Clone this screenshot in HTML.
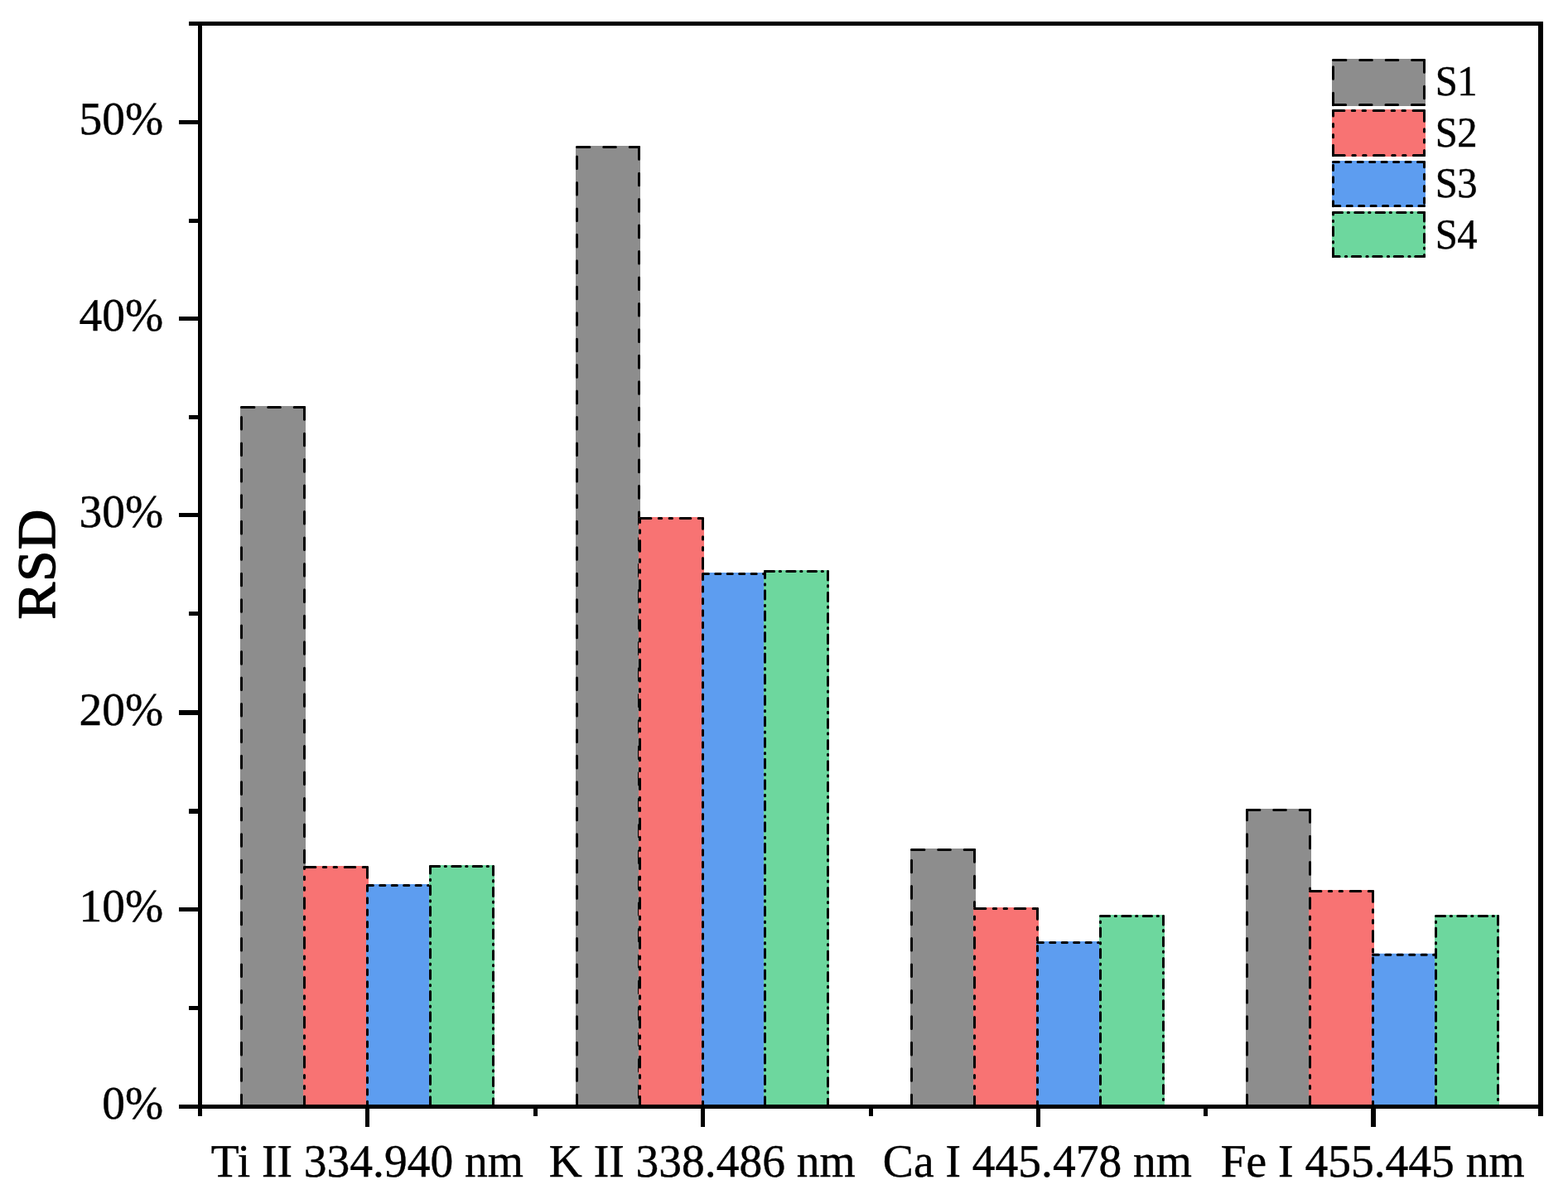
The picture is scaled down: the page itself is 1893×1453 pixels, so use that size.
<!DOCTYPE html>
<html lang="en"><head><meta charset="utf-8"><title>RSD of spectral lines for samples S1-S4</title>
<style>
html,body{margin:0;padding:0;background:#fff;}
body{width:1893px;height:1453px;}
svg{display:block;}
text{font-family:"Liberation Serif","Times New Roman",Times,serif;fill:#000;text-rendering:geometricPrecision;}
.tk{font-size:55.5px;stroke:#000;stroke-width:0.4px;}
.lg{font-size:48.6px;stroke:#000;stroke-width:0.4px;letter-spacing:-0.6px;}
.yl{font-size:67px;stroke:#000;stroke-width:1.5px;stroke-linejoin:round;letter-spacing:1.2px;}
.bd{fill:none;stroke:#000;stroke-width:3;stroke-linecap:round;}
.ax{fill:#000;}
</style></head><body>
<svg width="1893" height="1453" viewBox="0 0 1893 1453" role="img" aria-label="Grouped bar chart of RSD for four spectral lines and samples S1 to S4">
<rect x="0" y="0" width="1893" height="1453" fill="#fff"/>
<g id="bars">
<rect x="290" y="490" width="79" height="847" rx="1.2" fill="#8d8d8d"/><path class="bd" stroke-dasharray="14.6 16.85" d="M291.5 1335.8V491.5"/><path class="bd" stroke-dasharray="14.6 16.85" d="M292.3 491.5H367.5"/><path class="bd" stroke-dasharray="14.6 16.85" d="M367.5 491.7V1335.5"/><path class="bd" d="M291.5 491.5h0.01M367.5 491.5h0.01"/>
<rect x="366" y="1045" width="79" height="292" rx="1.2" fill="#f87373"/><path class="bd" stroke-dasharray="12.6 9.4 3.4 9.4 3.4 9.7" d="M367.5 1335.8V1046.5"/><path class="bd" stroke-dasharray="12.6 9.4 3.4 9.4 3.4 9.7" d="M368.3 1046.5H443.5"/><path class="bd" stroke-dasharray="12.6 9.4 3.4 9.4 3.4 9.7" d="M443.5 1046.7V1335.5"/><path class="bd" d="M367.5 1046.5h0.01M443.5 1046.5h0.01"/>
<rect x="442" y="1067" width="79" height="270" rx="1.2" fill="#5d9df0"/><path class="bd" stroke-dasharray="6.1 8.35" d="M443.5 1335.4V1068.5"/><path class="bd" stroke-dasharray="6.1 8.35" d="M444.3 1068.5H519.5"/><path class="bd" stroke-dasharray="6.1 8.35" d="M519.5 1068.7V1335.5"/><path class="bd" d="M443.5 1068.5h0.01M519.5 1068.5h0.01"/>
<rect x="518" y="1044" width="79" height="293" rx="1.2" fill="#6dd79e"/><path class="bd" stroke-dasharray="10.3 6.6 1.3 7.26" d="M519.5 1334V1045.5"/><path class="bd" stroke-dasharray="10.3 6.6 1.3 7.26" d="M520.3 1045.5H595.5"/><path class="bd" stroke-dasharray="10.3 6.6 1.3 7.26" d="M595.5 1045.7V1335.5"/><path class="bd" d="M519.5 1045.5h0.01M595.5 1045.5h0.01"/>
<rect x="695" y="176" width="78" height="1161" rx="1.2" fill="#8d8d8d"/><path class="bd" stroke-dasharray="14.6 16.85" d="M696.5 1335.8V177.5"/><path class="bd" stroke-dasharray="14.6 16.85" d="M697.3 177.5H771.5"/><path class="bd" stroke-dasharray="14.6 16.85" d="M771.5 177.7V1335.5"/><path class="bd" d="M696.5 177.5h0.01M771.5 177.5h0.01"/>
<rect x="771" y="624" width="79" height="713" rx="1.2" fill="#f87373"/><path class="bd" stroke-dasharray="12.6 9.4 3.4 9.4 3.4 9.7" d="M772.5 1335.8V625.5"/><path class="bd" stroke-dasharray="12.6 9.4 3.4 9.4 3.4 9.7" d="M773.3 625.5H848.5"/><path class="bd" stroke-dasharray="12.6 9.4 3.4 9.4 3.4 9.7" d="M848.5 625.7V1335.5"/><path class="bd" d="M772.5 625.5h0.01M848.5 625.5h0.01"/>
<rect x="847" y="691" width="78" height="646" rx="1.2" fill="#5d9df0"/><path class="bd" stroke-dasharray="6.1 8.35" d="M848.5 1335.4V692.5"/><path class="bd" stroke-dasharray="6.1 8.35" d="M849.3 692.5H923.5"/><path class="bd" stroke-dasharray="6.1 8.35" d="M923.5 692.7V1335.5"/><path class="bd" d="M848.5 692.5h0.01M923.5 692.5h0.01"/>
<rect x="922" y="688" width="79" height="649" rx="1.2" fill="#6dd79e"/><path class="bd" stroke-dasharray="10.3 6.6 1.3 7.26" d="M923.5 1334V689.5"/><path class="bd" stroke-dasharray="10.3 6.6 1.3 7.26" d="M924.3 689.5H999.5"/><path class="bd" stroke-dasharray="10.3 6.6 1.3 7.26" d="M999.5 689.7V1335.5"/><path class="bd" d="M923.5 689.5h0.01M999.5 689.5h0.01"/>
<rect x="1099" y="1024" width="79" height="313" rx="1.2" fill="#8d8d8d"/><path class="bd" stroke-dasharray="14.6 16.85" d="M1100.5 1335.8V1025.5"/><path class="bd" stroke-dasharray="14.6 16.85" d="M1101.3 1025.5H1176.5"/><path class="bd" stroke-dasharray="14.6 16.85" d="M1176.5 1025.7V1335.5"/><path class="bd" d="M1100.5 1025.5h0.01M1176.5 1025.5h0.01"/>
<rect x="1175" y="1095" width="79" height="242" rx="1.2" fill="#f87373"/><path class="bd" stroke-dasharray="12.6 9.4 3.4 9.4 3.4 9.7" d="M1176.5 1335.8V1096.5"/><path class="bd" stroke-dasharray="12.6 9.4 3.4 9.4 3.4 9.7" d="M1177.3 1096.5H1252.5"/><path class="bd" stroke-dasharray="12.6 9.4 3.4 9.4 3.4 9.7" d="M1252.5 1096.7V1335.5"/><path class="bd" d="M1176.5 1096.5h0.01M1252.5 1096.5h0.01"/>
<rect x="1251" y="1136" width="79" height="201" rx="1.2" fill="#5d9df0"/><path class="bd" stroke-dasharray="6.1 8.35" d="M1252.5 1335.4V1137.5"/><path class="bd" stroke-dasharray="6.1 8.35" d="M1253.3 1137.5H1328.5"/><path class="bd" stroke-dasharray="6.1 8.35" d="M1328.5 1137.7V1335.5"/><path class="bd" d="M1252.5 1137.5h0.01M1328.5 1137.5h0.01"/>
<rect x="1327" y="1104" width="79" height="233" rx="1.2" fill="#6dd79e"/><path class="bd" stroke-dasharray="10.3 6.6 1.3 7.26" d="M1328.5 1334V1105.5"/><path class="bd" stroke-dasharray="10.3 6.6 1.3 7.26" d="M1329.3 1105.5H1404.5"/><path class="bd" stroke-dasharray="10.3 6.6 1.3 7.26" d="M1404.5 1105.7V1335.5"/><path class="bd" d="M1328.5 1105.5h0.01M1404.5 1105.5h0.01"/>
<rect x="1504" y="976" width="79" height="361" rx="1.2" fill="#8d8d8d"/><path class="bd" stroke-dasharray="14.6 16.85" d="M1505.5 1335.8V977.5"/><path class="bd" stroke-dasharray="14.6 16.85" d="M1506.3 977.5H1581.5"/><path class="bd" stroke-dasharray="14.6 16.85" d="M1581.5 977.7V1335.5"/><path class="bd" d="M1505.5 977.5h0.01M1581.5 977.5h0.01"/>
<rect x="1580" y="1074" width="79" height="263" rx="1.2" fill="#f87373"/><path class="bd" stroke-dasharray="12.6 9.4 3.4 9.4 3.4 9.7" d="M1581.5 1335.8V1075.5"/><path class="bd" stroke-dasharray="12.6 9.4 3.4 9.4 3.4 9.7" d="M1582.3 1075.5H1657.5"/><path class="bd" stroke-dasharray="12.6 9.4 3.4 9.4 3.4 9.7" d="M1657.5 1075.7V1335.5"/><path class="bd" d="M1581.5 1075.5h0.01M1657.5 1075.5h0.01"/>
<rect x="1656" y="1150.8" width="79" height="186.2" rx="1.2" fill="#5d9df0"/><path class="bd" stroke-dasharray="6.1 8.35" d="M1657.5 1335.4V1152.3"/><path class="bd" stroke-dasharray="6.1 8.35" d="M1658.3 1152.3H1733.5"/><path class="bd" stroke-dasharray="6.1 8.35" d="M1733.5 1152.5V1335.5"/><path class="bd" d="M1657.5 1152.3h0.01M1733.5 1152.3h0.01"/>
<rect x="1732" y="1104" width="78" height="233" rx="1.2" fill="#6dd79e"/><path class="bd" stroke-dasharray="10.3 6.6 1.3 7.26" d="M1733.5 1334V1105.5"/><path class="bd" stroke-dasharray="10.3 6.6 1.3 7.26" d="M1734.3 1105.5H1808.5"/><path class="bd" stroke-dasharray="10.3 6.6 1.3 7.26" d="M1808.5 1105.7V1335.5"/><path class="bd" d="M1733.5 1105.5h0.01M1808.5 1105.5h0.01"/>
</g>
<g id="axes" class="ax">
<rect x="239" y="26" width="1624" height="5"/>
<rect x="239" y="1333" width="1624" height="5"/>
<rect x="239" y="26" width="5" height="1321"/>
<rect x="1857" y="26" width="6" height="1321"/>
<rect x="228" y="26" width="12" height="5"/>
<rect x="216" y="145" width="24" height="5"/>
<rect x="228" y="264" width="12" height="5"/>
<rect x="216" y="382" width="24" height="5"/>
<rect x="228" y="501" width="12" height="5"/>
<rect x="216" y="619" width="24" height="5"/>
<rect x="228" y="738" width="12" height="5"/>
<rect x="216" y="857" width="24" height="6"/>
<rect x="228" y="976" width="12" height="6"/>
<rect x="216" y="1095" width="24" height="5"/>
<rect x="228" y="1214" width="12" height="5"/>
<rect x="216" y="1333" width="24" height="5"/>
<rect x="441" y="1335" width="5" height="25"/>
<rect x="846" y="1335" width="5" height="25"/>
<rect x="1251" y="1335" width="5" height="25"/>
<rect x="1655" y="1335" width="6" height="25"/>
<rect x="644" y="1335" width="5" height="12"/>
<rect x="1049" y="1335" width="5" height="12"/>
<rect x="1453" y="1335" width="5" height="12"/>
</g>
<g id="ylabels" class="tk" text-anchor="end">
<text transform="translate(197.3 1350.1) scale(1 1.01)">0%</text>
<text transform="translate(197.3 1112.1) scale(1 1.01)">10%</text>
<text transform="translate(197.3 874.6) scale(1 1.01)">20%</text>
<text transform="translate(197.3 636.1) scale(1 1.01)">30%</text>
<text transform="translate(197.3 399.1) scale(1 1.01)">40%</text>
<text transform="translate(197.3 162.1) scale(1 1.01)">50%</text>
</g>
<g id="xlabels" class="tk" text-anchor="middle">
<text transform="translate(443.35 1420.1) scale(1 1.01)">Ti II 334.940 nm</text>
<text transform="translate(847.75 1420.1) scale(1 1.01)">K II 338.486 nm</text>
<text transform="translate(1252.4 1420.1) scale(1 1.01)">Ca I 445.478 nm</text>
<text transform="translate(1657.1 1420.1) scale(1 1.01)">Fe I 455.445 nm</text>
</g>
<text class="yl" text-anchor="middle" transform="translate(66.4 680.6) rotate(-90) scale(1 0.97)">RSD</text>
<g id="legend">
<rect x="1608" y="71" width="113" height="57" rx="1.2" fill="#8d8d8d"/><path class="bd" stroke-dasharray="14.6 16.85" d="M1609.5 126.8V72.5"/><path class="bd" stroke-dasharray="14.6 16.85" d="M1610.3 72.5H1719.5"/><path class="bd" stroke-dasharray="14.6 16.85" d="M1719.5 72.7V126.5"/><path class="bd" stroke-dasharray="14.6 16.85" d="M1719 126.5H1609.5"/><path class="bd" d="M1609.5 72.5h0.01M1719.5 72.5h0.01M1609.5 126.5h0.01M1719.5 126.5h0.01"/>
<text class="lg" transform="translate(1732.8 115.2) scale(1 1.06)">S1</text>
<rect x="1608" y="132" width="113" height="57" rx="1.2" fill="#f87373"/><path class="bd" stroke-dasharray="12.6 9.4 3.4 9.4 3.4 9.7" d="M1609.5 187.8V133.5"/><path class="bd" stroke-dasharray="12.6 9.4 3.4 9.4 3.4 9.7" d="M1610.3 133.5H1719.5"/><path class="bd" stroke-dasharray="12.6 9.4 3.4 9.4 3.4 9.7" d="M1719.5 133.7V187.5"/><path class="bd" stroke-dasharray="12.6 9.4 3.4 9.4 3.4 9.7" d="M1719 187.5H1609.5"/><path class="bd" d="M1609.5 133.5h0.01M1719.5 133.5h0.01M1609.5 187.5h0.01M1719.5 187.5h0.01"/>
<text class="lg" transform="translate(1732.8 176.7) scale(1 1.06)">S2</text>
<rect x="1608" y="194" width="113" height="56" rx="1.2" fill="#5d9df0"/><path class="bd" stroke-dasharray="6.1 8.35" d="M1609.5 248.8V195.5"/><path class="bd" stroke-dasharray="6.1 8.35" d="M1610.3 195.5H1719.5"/><path class="bd" stroke-dasharray="6.1 8.35" d="M1719.5 195.7V248.5"/><path class="bd" stroke-dasharray="6.1 8.35" d="M1719 248.5H1609.5"/><path class="bd" d="M1609.5 195.5h0.01M1719.5 195.5h0.01M1609.5 248.5h0.01M1719.5 248.5h0.01"/>
<text class="lg" transform="translate(1732.8 238.3) scale(1 1.06)">S3</text>
<rect x="1608" y="255" width="113" height="56" rx="1.2" fill="#6dd79e"/><path class="bd" stroke-dasharray="10.3 6.6 1.3 7.26" d="M1609.5 309.8V256.5"/><path class="bd" stroke-dasharray="10.3 6.6 1.3 7.26" d="M1610.3 256.5H1719.5"/><path class="bd" stroke-dasharray="10.3 6.6 1.3 7.26" d="M1719.5 256.7V309.5"/><path class="bd" stroke-dasharray="10.3 6.6 1.3 7.26" d="M1719 309.5H1609.5"/><path class="bd" d="M1609.5 256.5h0.01M1719.5 256.5h0.01M1609.5 309.5h0.01M1719.5 309.5h0.01"/>
<text class="lg" transform="translate(1732.8 299.9) scale(1 1.06)">S4</text>
</g>
</svg>
</body></html>
